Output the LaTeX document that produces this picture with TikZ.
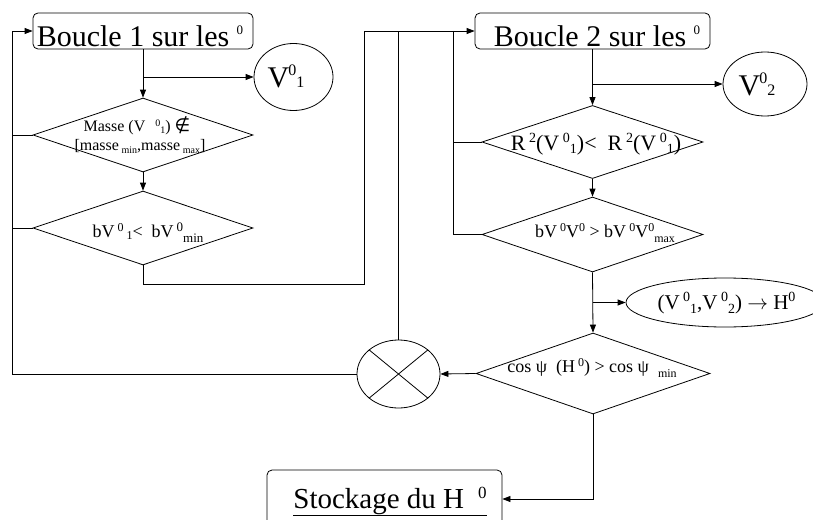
\documentclass[tikz,border=0pt]{standalone}
\usepackage{fontspec}
\setmainfont{Liberation Serif}
\newfontfamily\symf{DejaVu Sans}
\usetikzlibrary{shapes.geometric,arrows.meta}
\newcommand\supx[3]{\raisebox{#1}{\fontsize{#2}{#2}\selectfont #3}}
\tikzset{
  conn/.style={line width=0.8pt},
  arr/.style={conn,-{Triangle[length=8pt,width=6pt]}},
  rbox/.style={draw,rounded corners=5pt,line width=0.8pt,inner sep=0pt},
  dia/.style={draw,diamond,line width=0.8pt,inner sep=0pt},
  ell/.style={draw,ellipse,line width=0.8pt,inner sep=0pt},
  txt/.style={anchor=base,inner sep=0pt},
}
\begin{document}
\begin{tikzpicture}[x=1pt,y=-1pt]
\useasboundingbox (0,0) rectangle (813,519);
\clip (0,0) rectangle (813,519);
% nodes
\node[rbox,minimum width=220pt,minimum height=36pt] (b1) at (143,31) {};
\node[txt] (b1t) at (140,46) {\fontsize{30}{30}\selectfont Boucle 1 sur les \supx{12pt}{13}{0}};
\node[ell,minimum width=79pt,minimum height=67pt] (v1) at (293.5,77) {};
\node[txt] (v1t) at (286,87) {\fontsize{30}{30}\selectfont V\kern-1pt\supx{12pt}{16}{0}\supx{0pt}{16}{1}};
\node[dia,minimum width=220pt,minimum height=74pt] (d1) at (143,135) {};
\node[txt] (d1a) at (137,131) {\fontsize{16}{16}\selectfont Masse (V\hspace{10pt}\supx{5pt}{10}{0}\supx{-2pt}{10}{1}) {\symf\fontsize{18}{18}\selectfont ∉}};
\node[txt] (d1b) at (140,150) {\fontsize{16}{16}\selectfont [masse\,\supx{-3pt}{10}{min},masse\,\supx{-3pt}{10}{max}]};
\node[dia,minimum width=220pt,minimum height=74pt] (d2) at (143,228) {};
\node[txt] (d2t) at (148,237) {\fontsize{18}{18}\selectfont bV\,\supx{6pt}{12}{0}\,\supx{-2pt}{12}{1}<\ \ bV\,\supx{6pt}{13}{0}\supx{-5pt}{13}{min}};
\node[rbox,minimum width=235pt,minimum height=36pt] (b2) at (592.5,31) {};
\node[txt] (b2t) at (597,46) {\fontsize{30}{30}\selectfont Boucle 2 sur les \supx{12pt}{13}{0}};
\node[ell,minimum width=84pt,minimum height=64pt] (v2) at (765,84) {};
\node[txt] (v2t) at (757,95) {\fontsize{30}{30}\selectfont V\kern-1pt\supx{12pt}{16}{0}\supx{0pt}{16}{2}};
\node[dia,minimum width=221pt,minimum height=73pt] (d3) at (592.5,142) {};
\node[txt] (d3t) at (596,150) {\fontsize{22}{22}\selectfont R\,\supx{8pt}{14}{2}(V\,\supx{8pt}{14}{0}\supx{-3pt}{14}{1})<\ \ R\,\supx{8pt}{14}{2}(V\,\supx{8pt}{14}{0}\supx{-3pt}{14}{1})};
\node[dia,minimum width=221pt,minimum height=75pt] (d4) at (592.5,234.5) {};
\node[txt] (d4t) at (605,237) {\fontsize{18}{18}\selectfont bV\,\supx{6pt}{12}{0}V\supx{6pt}{12}{0} > bV\,\supx{6pt}{12}{0}V\supx{6pt}{12}{0}\supx{-5pt}{12}{max}};
\node[ell,minimum width=198pt,minimum height=49pt] (eh) at (725,302.5) {};
\node[txt] (eht) at (726.5,309) {\fontsize{21}{21}\selectfont (V\,\supx{8pt}{14}{0}\supx{-4pt}{14}{1},V\,\supx{8pt}{14}{0}\supx{-4pt}{14}{2}) $\rightarrow$ H\supx{8pt}{14}{0}};
\node[dia,minimum width=234pt,minimum height=81pt] (d5) at (593,373.5) {};
\node[txt] (d5t) at (592,372) {\fontsize{18}{18}\selectfont cos ψ \ (H\,\supx{6pt}{12}{0}) > cos ψ \ \supx{-5pt}{12}{min}};
\node[ell,minimum width=83pt,minimum height=68pt] (X) at (398.5,374) {};
\node[rbox,minimum width=235pt,minimum height=58pt] (st) at (384.5,499) {};
\node[txt] (stt) at (390,508) {\fontsize{29}{29}\selectfont \underline{Stockage du H\hspace{14pt}\supx{10pt}{17}{0}}};
% coordinates
\coordinate (L) at (12,31);
\coordinate (R) at (364,284);
\coordinate (J) at (453,31);
% cross in X
\draw[conn] (X.north east) -- (X.south west);
\draw[conn] (X.north west) -- (X.south east);
% loop 1
\draw[arr] (b1.south) -- (d1.north);
\draw[arr] (b1.south |- v1.west) -- (v1.west);
\draw[arr] (d1.south) -- (d2.north);
\draw[conn] (d1.west) -- (d1.west -| L);
\draw[conn] (d2.west) -- (d2.west -| L);
\draw[arr] (X.west) -| (L) -- (b1.west);
\draw[arr] (d2.south) |- (R) |- (b2.west);
\draw[conn] (X.north) -- (X.north |- b2.west);
% loop 2
\draw[arr] (b2.south) -- (d3.north);
\draw[arr] (b2.south |- v2.west) -- (v2.west);
\draw[arr] (d3.south) -- (d4.north);
\draw[conn] (d3.west) -- (d3.west -| J);
\draw[conn] (J) |- (d4.west);
\draw[arr] (d4.south) -- (d5.north);
\draw[arr] (d4.south |- eh.west) -- (eh.west);
\draw[arr] (d5.west) -- (X.east);
\draw[arr] (d5.south) |- (st.east);
\end{tikzpicture}
\end{document}
